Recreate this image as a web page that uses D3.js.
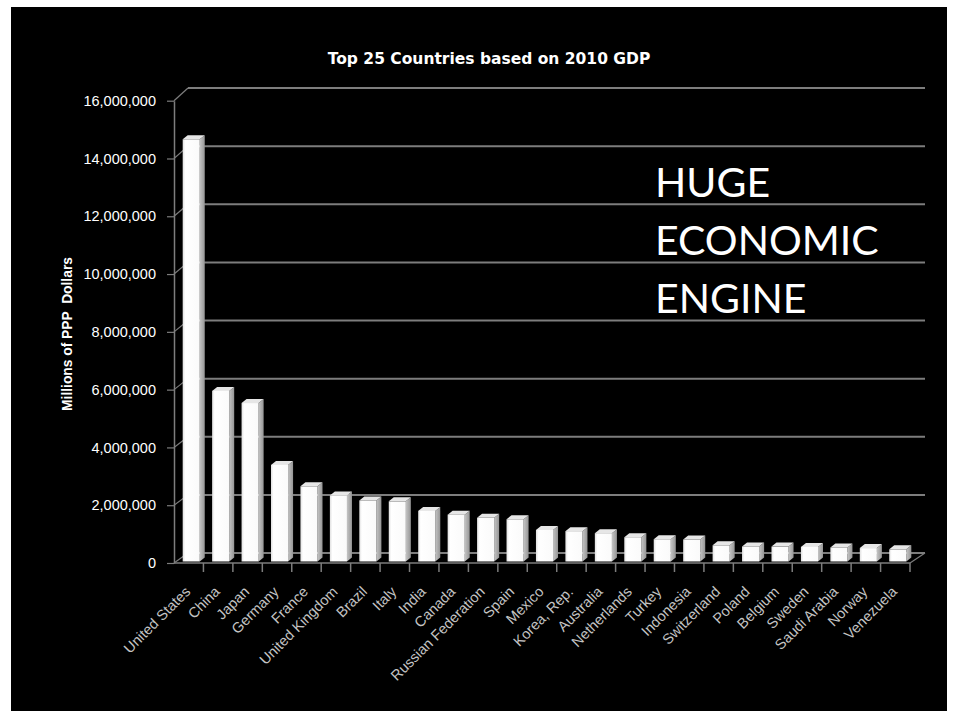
<!DOCTYPE html>
<html>
<head>
<meta charset="utf-8">
<script src="https://cdn.jsdelivr.net/npm/d3@7"></script>
<style>
  html, body { margin: 0; padding: 0; background: #fff; }
  svg { display: block; }
</style>
</head>
<body>
<svg id="chart" width="959" height="721"></svg>
<script>
// chart data
const countries = ["United States", "China", "Japan", "Germany", "France", "United Kingdom",
  "Brazil", "Italy", "India", "Canada", "Russian Federation", "Spain", "Mexico", "Korea, Rep.",
  "Australia", "Netherlands", "Turkey", "Indonesia", "Switzerland", "Poland", "Belgium",
  "Sweden", "Saudi Arabia", "Norway", "Venezuela"];
const gdp = [14600000, 5900000, 5480000, 3340000, 2600000, 2280000, 2110000, 2080000, 1750000,
  1620000, 1510000, 1460000, 1090000, 1050000, 980000, 840000, 770000, 760000, 560000,
  520000, 515000, 505000, 485000, 465000, 420000];
const yTicks = [0, 2000000, 4000000, 6000000, 8000000, 10000000, 12000000, 14000000, 16000000];
const title = "Top 25 Countries based on 2010 GDP";
const yTitle = "Millions of PPP  Dollars";
const callout = ["HUGE", "ECONOMIC", "ENGINE"];

const svg = d3.select("#chart");

// black slide background
svg.append("rect").attr("x", 11).attr("y", 7).attr("width", 936).attr("height", 704).attr("fill", "#000");

// front plane, back wall and bar depth each get their own y scale (fake 3d)
const yFront = d3.scaleLinear().domain([0, 16000000]).range([563, 100.7]);
const yBack = d3.scaleLinear().domain([0, 16000000]).range([553, 88]);
const yBar = d3.scaleLinear().domain([0, 16000000]).range([561.5, 98.8]);

const xCat = d3.scaleBand().domain(countries).range([174, 910]);
const xBar = d3.scaleBand().domain(countries).range([174, 910]).paddingInner(0.42).paddingOuter(0.21);

const grey = "#7d7d7d";
const backL = 188, backR = 925;

// gridlines on back wall + connectors to the axis
const grid = svg.append("g");
grid.selectAll("line.grid").data(yTicks).enter().append("line")
  .attr("x1", backL).attr("x2", backR)
  .attr("y1", d => yBack(d)).attr("y2", d => yBack(d))
  .attr("stroke", grey).attr("stroke-width", 2);
grid.selectAll("line.conn").data(yTicks).enter().append("line")
  .attr("x1", 174).attr("x2", backL)
  .attr("y1", d => yFront(d)).attr("y2", d => yBack(d))
  .attr("stroke", grey).attr("stroke-width", 1.2);

// floor front edge and right side
grid.append("line").attr("x1", 174).attr("x2", 910)
  .attr("y1", yFront(0)).attr("y2", yFront(0)).attr("stroke", grey).attr("stroke-width", 1.5);
grid.append("line").attr("x1", 910).attr("x2", backR)
  .attr("y1", yFront(0)).attr("y2", yBack(0)).attr("stroke", grey).attr("stroke-width", 1.2);

// x ticks at category edges
grid.selectAll("line.xt").data(countries).enter().append("line")
  .attr("x1", d => xCat(d) + xCat.bandwidth()).attr("x2", d => xCat(d) + xCat.bandwidth())
  .attr("y1", yFront(0)).attr("y2", yFront(0) + 9)
  .attr("stroke", grey).attr("stroke-width", 1.5);

// y axis
const yAxis = d3.axisLeft(yFront).tickValues(yTicks).tickSize(7).tickSizeOuter(0)
  .tickPadding(11).tickFormat(d3.format(","));
const ya = svg.append("g").attr("transform", "translate(174,0)").call(yAxis);
ya.select(".domain").attr("stroke", grey).attr("stroke-width", 1.5);
ya.selectAll(".tick line").attr("stroke", grey).attr("stroke-width", 1.2);
ya.selectAll(".tick text").attr("fill", "#fff")
  .style("font-family", "'Liberation Sans', Arial, sans-serif").style("font-size", "14.5px");

// bars
const defs = svg.append("defs");
const grad = defs.append("linearGradient").attr("id", "front");
grad.append("stop").attr("offset", "0%").attr("stop-color", "#e0e0e0");
grad.append("stop").attr("offset", "15%").attr("stop-color", "#ffffff");
grad.append("stop").attr("offset", "100%").attr("stop-color", "#fafafa");
const sgrad = defs.append("linearGradient").attr("id", "side");
sgrad.append("stop").attr("offset", "0%").attr("stop-color", "#c4c4c4");
sgrad.append("stop").attr("offset", "100%").attr("stop-color", "#959595");

const dx = 5, dy = -4, shift = 2.5;
const bw = xBar.bandwidth();
const bars = svg.selectAll("g.bar").data(countries).enter().append("g");
bars.append("polygon")
  .attr("points", (d, i) => {
    const x = xBar(d) + shift, t = yBar(gdp[i]), b = yBar(0);
    return [[x + bw, t], [x + bw + dx, t + dy], [x + bw + dx, b + dy], [x + bw, b]].join(" ");
  })
  .attr("fill", "url(#side)");
bars.append("polygon")
  .attr("points", (d, i) => {
    const x = xBar(d) + shift, t = yBar(gdp[i]);
    return [[x, t], [x + bw, t], [x + bw + dx, t + dy], [x + dx, t + dy]].join(" ");
  })
  .attr("fill", "#e6e6e6");
bars.append("rect")
  .attr("x", d => xBar(d) + shift)
  .attr("y", (d, i) => yBar(gdp[i]))
  .attr("width", bw)
  .attr("height", (d, i) => yBar(0) - yBar(gdp[i]))
  .attr("fill", "url(#front)");

// category labels
svg.selectAll("text.xl").data(countries).enter().append("text")
  .attr("transform", d => `translate(${xCat(d) + xCat.bandwidth() / 2 - 1},${589})rotate(-45)`)
  .attr("text-anchor", "end")
  .attr("dy", "0.35em")
  .attr("fill", "#c4c4c4")
  .style("font-family", "'Liberation Sans', Arial, sans-serif").style("font-size", "14.5px")
  .text(d => d);

// titles
svg.append("text").attr("x", 489).attr("y", 64).attr("text-anchor", "middle")
  .attr("fill", "#fff").style("font-family", "'DejaVu Sans', Verdana, sans-serif")
  .style("font-size", "15.5px").style("font-weight", "bold").text(title);

svg.append("text").attr("transform", "translate(72,334)rotate(-90)")
  .attr("text-anchor", "middle").attr("fill", "#fff")
  .style("font-family", "'Liberation Sans', Arial, sans-serif")
  .style("font-size", "13.8px").style("font-weight", "bold").style("white-space", "pre")
  .text(yTitle);

// callout text
svg.selectAll("text.callout").data(callout).enter().append("text")
  .attr("x", 655).attr("y", (d, i) => 197 + i * 58)
  .attr("fill", "#fff").style("font-family", "Lato, 'Open Sans', sans-serif")
  .style("font-size", "41px").text(d => d);
</script>
</body>
</html>
